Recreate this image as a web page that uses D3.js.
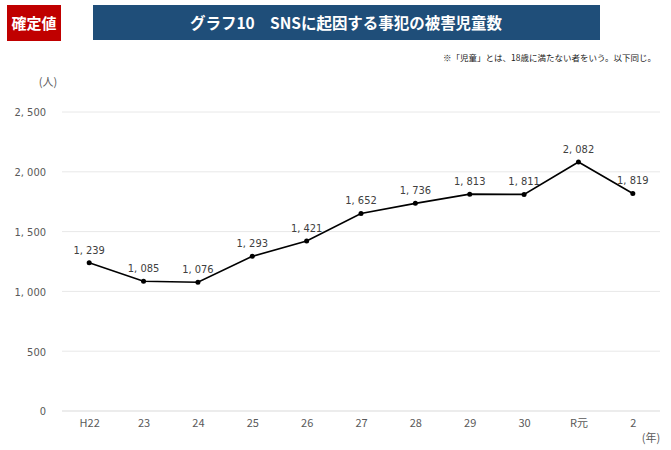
<!DOCTYPE html>
<html><head><meta charset="utf-8">
<script src="https://cdn.jsdelivr.net/npm/d3@7"></script>
<style>body{margin:0;background:#fff;}</style>
</head><body>
<script>
const categories = ["H22","23","24","25","26","27","28","29","30","R元","2"];
const values = [1239,1085,1076,1293,1421,1652,1736,1813,1811,2082,1819];
const yTicks = [0,500,1000,1500,2000,2500];
const title = "グラフ10　SNSに起因する事犯の被害児童数";
const badge = "確定値";
const note = "※「児童」とは、18歳に満たない者をいう。以下同じ。";

const W = 671, H = 450;
const svg = d3.select("body").append("svg").attr("width", W).attr("height", H);
const jp = "'Noto Sans CJK JP','Noto Sans',sans-serif";
const cond = "'DejaVu Sans Condensed','Liberation Sans Narrow',sans-serif";
const fmt = v => d3.format(",")(v).replace(/,/g, ", ");

// header
svg.append("rect").attr("x",7).attr("y",5).attr("width",54).attr("height",36).attr("fill","#c00000");
svg.append("text").attr("x",34).attr("y",29).attr("text-anchor","middle").attr("fill","#fff")
  .attr("font-family",jp).attr("font-weight","bold").attr("font-size",15).text(badge);
svg.append("rect").attr("x",93).attr("y",5).attr("width",507).attr("height",35).attr("fill","#1f4e79");
svg.append("text").attr("x",346).attr("y",29).attr("text-anchor","middle").attr("fill","#fff")
  .attr("font-family",jp).attr("font-weight","bold").attr("font-size",16)
  .attr("textLength",312).attr("lengthAdjust","spacingAndGlyphs").text(title);
svg.append("text").attr("x",656).attr("y",61).attr("text-anchor","end").attr("fill","#222")
  .attr("font-family",jp).attr("font-size",8.5).text(note);

const x = d3.scalePoint().domain(categories).range([62,660]).padding(0.5);
const y = d3.scaleLinear().domain([0,2500]).range([411,112]);

// gridlines
svg.append("g").selectAll("line").data(yTicks.filter(t=>t>0)).join("line")
  .attr("x1",62).attr("x2",660).attr("y1",d=>y(d)).attr("y2",d=>y(d))
  .attr("stroke","#e8e8e8").attr("stroke-width",1);
svg.append("line").attr("x1",62).attr("x2",660).attr("y1",y(0)).attr("y2",y(0))
  .attr("stroke","#d9d9d9").attr("stroke-width",1.2);

// y axis labels
const yAxis = d3.axisLeft(y).tickValues(yTicks).tickSize(0).tickPadding(0).tickFormat(fmt);
const ya = svg.append("g").attr("transform","translate(46,0)").call(yAxis);
ya.select(".domain").remove();
ya.selectAll("text").attr("font-family",cond)
  .attr("font-size",11).attr("fill","#595959").attr("dy","0.35em");

// x axis labels
const xAxis = d3.axisBottom(x).tickSize(0).tickPadding(0);
const xa = svg.append("g").attr("transform","translate(0,419)").call(xAxis);
xa.select(".domain").remove();
xa.selectAll("text").attr("font-family",jp).attr("font-size",11).attr("fill","#595959").attr("dy","0.71em");

// unit labels
svg.append("text").attr("x",48).attr("y",86).attr("text-anchor","middle").attr("fill","#595959")
  .attr("font-family",jp).attr("font-size",11).text("(人)");
svg.append("text").attr("x",651).attr("y",442).attr("text-anchor","middle").attr("fill","#595959")
  .attr("font-family",jp).attr("font-size",11).text("(年)");

// line
const data = categories.map((c,i)=>({c, v: values[i]}));
svg.append("path").datum(data)
  .attr("d", d3.line().x(d=>x(d.c)).y(d=>y(d.v)))
  .attr("fill","none").attr("stroke","#000").attr("stroke-width",1.6);
svg.append("g").selectAll("circle").data(data).join("circle")
  .attr("cx",d=>x(d.c)).attr("cy",d=>y(d.v)).attr("r",2.5).attr("fill","#000");

// data labels
svg.append("g").selectAll("text").data(data).join("text")
  .attr("x",d=>x(d.c)).attr("y",d=>y(d.v)-9).attr("text-anchor","middle")
  .attr("font-family",cond)
  .attr("font-size",11).attr("fill","#404040").text(d=>fmt(d.v));
</script>
</body></html>
